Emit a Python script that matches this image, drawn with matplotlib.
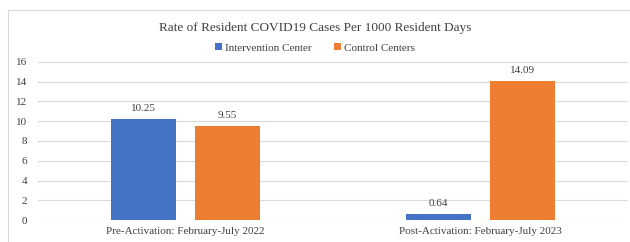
import matplotlib.pyplot as plt
import numpy as np
from matplotlib.patches import Rectangle

categories = ["Pre-Activation: February-July 2022", "Post-Activation: February-July 2023"]
series_names = ["Intervention Center", "Control Centers"]
intervention = [10.25, 0.64]
control = [9.55, 14.09]
colors = ["#4472C4", "#ED7D31"]

plt.rcParams["font.family"] = ["Liberation Serif", "DejaVu Serif"]

fig = plt.figure(figsize=(6.3, 2.42), dpi=100)
ax = fig.add_axes([38 / 630, 1 - 220 / 242, 590 / 630, (220 - 62) / 242])

x = np.arange(len(categories))
width = 0.22
offset = 0.142
for vals, name, col, off in [(intervention, series_names[0], colors[0], -offset),
                              (control, series_names[1], colors[1], offset)]:
    bars = ax.bar(x + off, vals, width, color=col, label=name, zorder=3)
    for b, v in zip(bars, vals):
        ax.text(b.get_x() + b.get_width() / 2, v + 0.6, f"{v:.2f}",
                ha="center", va="bottom", fontsize=8, color="#404040")

ax.set_xlim(-0.5, 1.5)
ax.set_ylim(0, 16)
ax.set_yticks(range(0, 17, 2))
ax.set_xticks(x)
ax.set_xticklabels(categories)
ax.tick_params(axis="both", length=0, labelsize=8, labelcolor="#404040")
ax.tick_params(axis="y", pad=8)
ax.tick_params(axis="x", pad=5)
ax.grid(axis="y", color="#d9d9d9", linewidth=0.8, zorder=0)
for s in ax.spines.values():
    s.set_visible(False)

fig.text(0.5, 1 - 28 / 242, "Rate of Resident COVID19 Cases Per 1000 Resident Days",
         ha="center", va="center", fontsize=9.5, color="#404040")
fig.legend(loc="center", bbox_to_anchor=(0.5, 1 - 48 / 242), ncol=2, frameon=False,
           fontsize=8, handlelength=0.6, handleheight=0.6, handletextpad=0.3,
           columnspacing=2.0, labelcolor="#404040")

fig.patches.append(Rectangle((8 / 630, -0.1), 1.0, 1 - 10 / 242 + 0.1, transform=fig.transFigure,
                             fill=False, edgecolor="#d9d9d9", linewidth=0.8))

fig.savefig("out.png", dpi=100)
